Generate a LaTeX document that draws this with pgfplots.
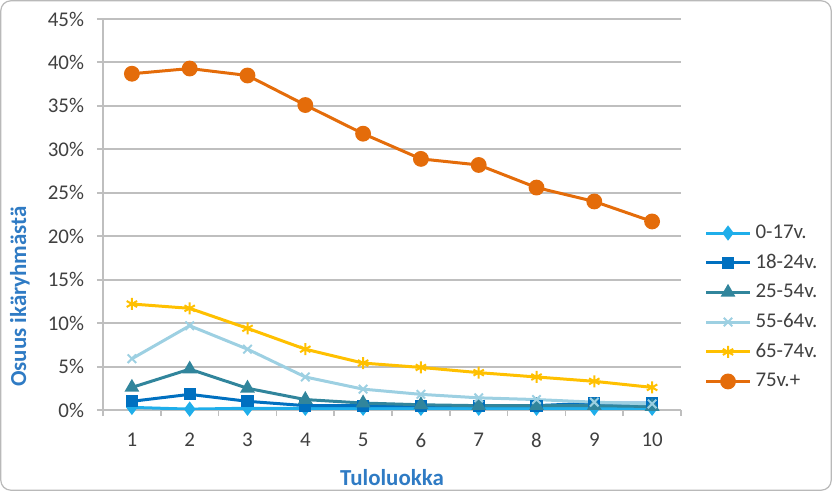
\documentclass[border=0pt]{standalone}
\usepackage{fontspec}
\setmainfont{Carlito}
\usepackage{pgfplots}
\pgfplotsset{compat=1.18}

\definecolor{c017}{HTML}{1FAEEA}
\definecolor{c1824}{HTML}{0070C0}
\definecolor{c2554}{HTML}{31859C}
\definecolor{c5564}{HTML}{9DD0E2}
\definecolor{c6574}{HTML}{FFC000}
\definecolor{c75}{HTML}{E46C0A}
\definecolor{titleblue}{HTML}{2F7BC4}
\definecolor{gridgray}{HTML}{BFBFBF}
\definecolor{ticktext}{HTML}{404040}

\begin{document}
\begin{tikzpicture}
\useasboundingbox (0,0) rectangle (416bp,245.5bp);
\draw[gray!55, line width=0.6bp, rounded corners=5bp] (0.4bp,0.4bp) rectangle (415.6bp,245.1bp);
\begin{axis}[
    at={(51.5bp,40.5bp)}, anchor=south west,
    scale only axis,
    width=289bp, height=195.5bp,
    xmin=0.5, xmax=10.5,
    ymin=0, ymax=45,
    xtick={1,...,10},
    minor xtick={0.5,1.5,...,10.5},
    ytick={0,5,...,45},
    yticklabel={\pgfmathprintnumber{\tick}\%},
    /pgf/number format/assume math mode=true,
    tick label style={font=\fontsize{10.5}{12}\selectfont, text=ticktext},
    axis x line*=bottom, axis y line*=left,
    axis line style={gridgray, line width=1bp},
    ymajorgrids, major grid style={gridgray, line width=1bp},
    major tick length=3bp, minor tick length=3bp,
    major x tick style={draw=none},
    y tick style={gridgray, line width=1bp},
    every minor tick/.style={gridgray, line width=0.8bp},
    tick align=outside,
    yticklabel style={xshift=-3bp},
    xticklabel style={yshift=-5bp},
    xlabel={Tuloluokka},
    ylabel={Osuus ikäryhmästä},
    label style={font=\fontsize{11.5}{13}\selectfont\bfseries, text=titleblue},
    xlabel style={at={(rel axis cs:0.5,0)}, anchor=center, yshift=-34bp},
    ylabel style={at={(rel axis cs:0,0.29)}, anchor=center, yshift=41.5bp},
    legend style={at={(rel axis cs:1.04,0.485)}, anchor=north west, draw=none, fill=none,
        font=\fontsize{10.5}{12}\selectfont, text=ticktext,
        row sep=2.4bp, inner sep=0pt},
    legend cell align=left,
    legend image code/.code={
        \draw[mark repeat=2, mark phase=2] plot coordinates {(0bp,0bp) (11bp,0bp) (22bp,0bp)};
    },
    every axis plot/.append style={line width=1.5bp},
]
\addplot[color=c017, mark=diamond*, mark size=2.6bp] coordinates {
    (1,0.3) (2,0.1) (3,0.2) (4,0.2) (5,0.2) (6,0.2) (7,0.2) (8,0.2) (9,0.2) (10,0.2)};
\addlegendentry{0-17v.}
\addplot[color=c1824, mark=square*, mark size=2.3bp] coordinates {
    (1,1.0) (2,1.8) (3,1.0) (4,0.5) (5,0.5) (6,0.5) (7,0.5) (8,0.5) (9,0.8) (10,0.8)};
\addlegendentry{18-24v.}
\addplot[color=c2554, mark=triangle*, mark size=2.8bp] coordinates {
    (1,2.6) (2,4.7) (3,2.5) (4,1.2) (5,0.8) (6,0.6) (7,0.5) (8,0.5) (9,0.5) (10,0.4)};
\addlegendentry{25-54v.}
\addplot[color=c5564, mark=x, mark size=3bp, mark options={line width=1bp}] coordinates {
    (1,5.9) (2,9.7) (3,7.0) (4,3.8) (5,2.4) (6,1.8) (7,1.4) (8,1.2) (9,0.9) (10,0.7)};
\addlegendentry{55-64v.}
\addplot[color=c6574, mark=asterisk, mark size=3bp, mark options={line width=1bp}] coordinates {
    (1,12.2) (2,11.7) (3,9.4) (4,7.0) (5,5.4) (6,4.9) (7,4.3) (8,3.8) (9,3.3) (10,2.6)};
\addlegendentry{65-74v.}
\addplot[color=c75, mark=*, mark size=3.2bp] coordinates {
    (1,38.7) (2,39.3) (3,38.5) (4,35.1) (5,31.8) (6,28.9) (7,28.2) (8,25.6) (9,24.0) (10,21.7)};
\addlegendentry{75v.+}
\end{axis}
\end{tikzpicture}
\end{document}
